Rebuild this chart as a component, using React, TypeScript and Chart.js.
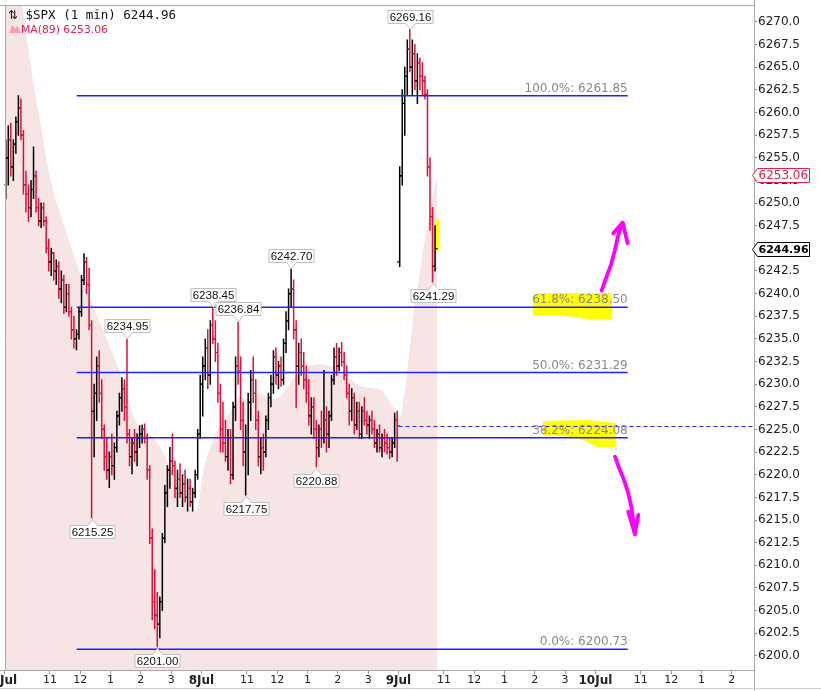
import React, { useEffect, useRef } from 'react';
import { Chart, registerables } from 'chart.js';

Chart.register(...registerables);

// ---- axis / tick labels ----
const dayLabels = ['7Jul', '8Jul', '9Jul', '10Jul'];
const hourLabels = ['11', '12', '1', '2', '3'];
const hourOffsets = [90, 150, 210, 270, 330]; // minutes after 9:30 open
const sessionMinutes = 390;
const barMinutes = 5;
const xMin = 0;
const xMax = 1484;
const yMin = 6198.44;
const yMax = 6271.87;

// ---- price bars [open, high, low, close], 5-minute bars ----
const day1Bars: number[][] = [
  [6252, 6257, 6250.5, 6255], [6255, 6258.5, 6252, 6257], [6257, 6258.8, 6253, 6254], [6254, 6257, 6252.5, 6256.5],
  [6256.5, 6259.5, 6255.5, 6259], [6259, 6261.85, 6257.5, 6260.5], [6260.5, 6261.5, 6257, 6257.5], [6257.5, 6258, 6251, 6252],
  [6252, 6253.5, 6249, 6251], [6251, 6252, 6248, 6249.5], [6249.5, 6252.5, 6248.5, 6251.5], [6251.5, 6256.2, 6250.5, 6253],
  [6253, 6253.5, 6249, 6249.5], [6249.5, 6250.5, 6247.5, 6248], [6248, 6250, 6247.3, 6249.5], [6249.5, 6250, 6247.5, 6248],
  [6248, 6248.5, 6244.5, 6245], [6245, 6246, 6242.5, 6243.5], [6243.5, 6245, 6242, 6244.5], [6244.5, 6244.5, 6241.5, 6242.5],
  [6242.5, 6243.7, 6241, 6243], [6243, 6243.5, 6239.5, 6240.5], [6240.5, 6242.5, 6239, 6241.5], [6241.5, 6242, 6237.8, 6238.5],
  [6238.5, 6241, 6238, 6240], [6240, 6241, 6237.5, 6238], [6238, 6238.5, 6235, 6236], [6236, 6237.5, 6234, 6235],
  [6235, 6236, 6233.8, 6235.5], [6235.5, 6238.5, 6235, 6238], [6238, 6242, 6237.5, 6241.5], [6241.5, 6244.4, 6241, 6243.5],
  [6243.5, 6244, 6240, 6241], [6241, 6242.8, 6236, 6236.5], [6236.5, 6237, 6215.25, 6227], [6227, 6230, 6222, 6229],
  [6229, 6233, 6226, 6232], [6232, 6233.7, 6228, 6229], [6229, 6230.5, 6224, 6225], [6225, 6225.5, 6220.5, 6222],
  [6222, 6224, 6219.5, 6220.5], [6220.5, 6222.5, 6218.6, 6222], [6222, 6224.5, 6220, 6221], [6221, 6223.5, 6219.5, 6223],
  [6223, 6227, 6222.5, 6226.5], [6226.5, 6229, 6225.5, 6228.5], [6228.5, 6230.7, 6227, 6229.5], [6229.5, 6230.5, 6226, 6227.5],
  [6227.5, 6234.95, 6223.5, 6224.5], [6224.5, 6225, 6221, 6222], [6222, 6224, 6220.1, 6223.5], [6223.5, 6225, 6221.5, 6222.5],
  [6222.5, 6224.5, 6221, 6224], [6224, 6225.4, 6223, 6224.5], [6224.5, 6225.5, 6223.5, 6225], [6225, 6225.6, 6223.5, 6224],
  [6224, 6224.5, 6219.5, 6220.5], [6220.5, 6221, 6212.4, 6213], [6213, 6214, 6204, 6206], [6206, 6209.5, 6203, 6204.5],
  [6204.5, 6207, 6201, 6203.5], [6203.5, 6206.5, 6202, 6206], [6206, 6213.5, 6205, 6213], [6213, 6218.8, 6212.5, 6218],
  [6218, 6221, 6216.5, 6220.5], [6220.5, 6223, 6218.5, 6221.5], [6221.5, 6224.5, 6220, 6221], [6221, 6221.5, 6217.5, 6218.5],
  [6218.5, 6220.5, 6216.5, 6219.5], [6219.5, 6221.2, 6217.5, 6218], [6218, 6220, 6216.5, 6219], [6219, 6220.5, 6217, 6217.5],
  [6217.5, 6219.5, 6216, 6218.5], [6218.5, 6219.5, 6216.5, 6217], [6217, 6218.5, 6216, 6218], [6218, 6220.5, 6217.5, 6220],
  [6220, 6225, 6219.5, 6224.5], [6224.5, 6231, 6224, 6230],
];

const day2Bars: number[][] = [
  [6230, 6233, 6226.5, 6232], [6232, 6235, 6230.5, 6234], [6234, 6236, 6229.5, 6231], [6231, 6237, 6230, 6236.5],
  [6236.5, 6238.45, 6234.5, 6235], [6235, 6237, 6232.5, 6233.5], [6233.5, 6234.5, 6228, 6229], [6229, 6230, 6222.5, 6225],
  [6225, 6228, 6222.5, 6223.5], [6223.5, 6226, 6221.5, 6222], [6222, 6225, 6220.5, 6224], [6224, 6225, 6219, 6220],
  [6220, 6228, 6219.5, 6227.5], [6227.5, 6233, 6226, 6232], [6232, 6236.84, 6230, 6231.5], [6231.5, 6233, 6225, 6226],
  [6226, 6228, 6221, 6222.5], [6222.5, 6225.5, 6217.75, 6224], [6224, 6229, 6220, 6228], [6228, 6231.5, 6226, 6230.5],
  [6230.5, 6233, 6228, 6229], [6229, 6230.5, 6225, 6226], [6226, 6227, 6221, 6222], [6222, 6224, 6220.1, 6223],
  [6223, 6224.5, 6220.5, 6222.5], [6222.5, 6226.5, 6222, 6226], [6226, 6229, 6225, 6228.5], [6228.5, 6231, 6227.5, 6230],
  [6230, 6233.7, 6229, 6233], [6233, 6234, 6230, 6231], [6231, 6232.5, 6229.5, 6232], [6232, 6233, 6229.8, 6230.5],
  [6230.5, 6235, 6230, 6234.5], [6234.5, 6238, 6233.5, 6237], [6237, 6240.5, 6236, 6240], [6240, 6242.7, 6238.5, 6240.5],
  [6240.5, 6241.5, 6235, 6236], [6236, 6237, 6227.4, 6232], [6232, 6234.5, 6230, 6233.5], [6233.5, 6235, 6231, 6232],
  [6232, 6233.5, 6229.5, 6230.5], [6230.5, 6232, 6228, 6229], [6229, 6230.5, 6225.5, 6226.5], [6226.5, 6228.5, 6224.5, 6227.5],
  [6227.5, 6228.5, 6224, 6225], [6225, 6226, 6220.88, 6223], [6223, 6225.5, 6222, 6225], [6225, 6227, 6223, 6224],
  [6224, 6231.5, 6223.5, 6226], [6226, 6227.5, 6222.5, 6224.5], [6224.5, 6227, 6223, 6226.5], [6226.5, 6231, 6226, 6230.5],
  [6230.5, 6234, 6230, 6233], [6233, 6234.5, 6231, 6232], [6232, 6234, 6231.5, 6233.5], [6233.5, 6234.6, 6232, 6232.5],
  [6232.5, 6233.5, 6230.5, 6231], [6231, 6232, 6228.5, 6229], [6229, 6230, 6225.5, 6227], [6227, 6229.5, 6226, 6228.5],
  [6228.5, 6229, 6224.5, 6225.5], [6225.5, 6228, 6225, 6227], [6227, 6228, 6224, 6224.5], [6224.5, 6227.5, 6224, 6227],
  [6227, 6228.5, 6225.5, 6226], [6226, 6227, 6224.5, 6225.5], [6225.5, 6226.5, 6224, 6226], [6226, 6227, 6224.5, 6225],
  [6225, 6226, 6223, 6223.5], [6223.5, 6225, 6222.5, 6224.5], [6224.5, 6225.5, 6222.5, 6223], [6223, 6224.5, 6222, 6224],
  [6224, 6225, 6222.5, 6223.5], [6223.5, 6224.5, 6222.3, 6223], [6223, 6224, 6221.8, 6222.5], [6222.5, 6224, 6222, 6223.5],
  [6223.5, 6226.8, 6223, 6226], [6226, 6227, 6221.5, 6225.4],
];

const day3Bars: number[][] = [
  [6243.5, 6254, 6243, 6253], [6253, 6262.5, 6252, 6261], [6261, 6265, 6257.5, 6264], [6264, 6268, 6262, 6267],
  [6267, 6269.16, 6264.5, 6265], [6265, 6268, 6262, 6266.5], [6266.5, 6267.5, 6262.5, 6263.5], [6263.5, 6266.5, 6261, 6265.5],
  [6265.5, 6266, 6262.5, 6264], [6264, 6265.5, 6262, 6263.5], [6263.5, 6264, 6261.5, 6262], [6262, 6262.5, 6253, 6254],
  [6254, 6255, 6247, 6248.5], [6248.5, 6249.5, 6241.29, 6243], [6243, 6247.5, 6242.5, 6244.96],
];

// ---- MA(89) read from the shaded area: minute of session time, value ----
const maMinutes = [0, 35, 45, 56, 70, 90, 110, 155, 209, 229, 262, 282, 308, 334, 373, 383, 393, 413, 421, 446, 466, 480, 506, 526, 545, 571, 599, 625, 650, 678, 710, 743, 769, 783, 793, 803, 811, 823, 839, 857];
const maValues = [6276, 6271.6, 6268.0, 6263.6, 6259.2, 6252.9, 6248.9, 6241.5, 6234.1, 6231.2, 6225.7, 6224.6, 6223.1, 6220.2, 6216.0, 6216.5, 6220.2, 6223.8, 6224.9, 6226.8, 6228.6, 6228.3, 6229.0, 6228.3, 6228.6, 6230.5, 6231.9, 6232.2, 6231.9, 6230.8, 6229.7, 6229.4, 6227.5, 6226.4, 6229.4, 6234.3, 6238.2, 6242.6, 6248.1, 6253.06];
const maLast = 6253.06;

// ---- Fibonacci retracement ----
const fibPercents = ['100.0%', '61.8%', '50.0%', '38.2%', '0.0%'];
const fibLevels = [6261.85, 6238.50, 6231.29, 6224.08, 6200.73];
const fibStartMinute = 143;
const fibEndMinute = 1234;
const prevClose = 6225.4;
const prevCloseStartMinute = 780;

// ---- high / low call-outs ----
const calloutHighs = [6234.95, 6238.45, 6236.84, 6242.70, 6269.16];
const calloutLows = [6215.25, 6201.00, 6217.75, 6220.88, 6241.29];

// ---- hand-drawn markups in (minute, price) ----
const highlight618 = [[1046, 6239.74], [1060, 6240.07], [1201, 6240.07], [1203, 6239.3], [1203, 6237.2], [1159, 6237.15], [1130, 6237.42], [1100, 6237.59], [1046, 6237.59]];
const highlight382 = [[1066, 6225.94], [1153, 6226.05], [1211, 6225.72], [1211, 6223.07], [1173, 6223.07], [1145, 6223.84], [1110, 6224.28], [1066, 6224.39]];
const highlightLast = [[852.3, 6248.24], [860.2, 6248.24], [860.2, 6244.71], [852.3, 6244.71]];
const upArrowPath = [[1182.3, 6240.33], [1190.8, 6241.69], [1200.7, 6243.16], [1208.6, 6244.82], [1215.2, 6246.47], [1223.9, 6247.83]];
const upArrowHead = [[1205.3, 6246.66], [1223.9, 6247.83], [1233.8, 6245.56]];
const downArrowPath = [[1208.7, 6222.0], [1217.2, 6220.72], [1226.5, 6219.43], [1235.0, 6217.96], [1241.7, 6216.3], [1248.3, 6213.43]];
const downArrowHead = [[1235.0, 6215.93], [1248.3, 6213.43], [1254.9, 6215.57]];

const UP = '#000000';
const DOWN = '#d8103c';
const FIB_BLUE = '#2020ff';

type Bar = { m: number; o: number; h: number; l: number; c: number };

function allBars(): Bar[] {
  const out: Bar[] = [];
  [day1Bars, day2Bars, day3Bars].forEach((day, d) => {
    day.forEach((b, i) => {
      out.push({ m: d * sessionMinutes + i * barMinutes + barMinutes / 2, o: b[0], h: b[1], l: b[2], c: b[3] });
    });
  });
  return out;
}

function tickMap(): Map<number, string> {
  const map = new Map<number, string>();
  dayLabels.forEach((lab, d) => {
    const start = d * sessionMinutes;
    if (start <= xMax) map.set(start, lab);
    hourOffsets.forEach((off, h) => {
      const v = start + off;
      if (v <= xMax) map.set(v, hourLabels[h]);
    });
  });
  return map;
}

export default function App() {
  const ref = useRef<HTMLCanvasElement>(null);

  useEffect(() => {
    const canvas = ref.current;
    if (!canvas) return;
    const bars = allBars();
    const ticks = tickMap();
    const lastClose = day3Bars[day3Bars.length - 1][3];

    const overlay: any = {
      id: 'overlay',
      afterDatasetsDraw(chart: any) {
        const { ctx, chartArea: ca } = chart;
        const xs = chart.scales.x;
        const ys = chart.scales.y;
        const X = (m: number) => xs.getPixelForValue(m);
        const Y = (p: number) => ys.getPixelForValue(p);
        ctx.save();
        ctx.beginPath();
        ctx.rect(ca.left, ca.top, ca.right - ca.left, ca.bottom - ca.top);
        ctx.clip();

        // yellow highlighter
        ctx.fillStyle = '#ffff00';
        [highlight618, highlight382, highlightLast].forEach((poly) => {
          ctx.beginPath();
          poly.forEach(([m, p], i) => (i ? ctx.lineTo(X(m), Y(p)) : ctx.moveTo(X(m), Y(p))));
          ctx.closePath();
          ctx.fill();
        });

        // OHLC bars
        bars.forEach((b) => {
          const px = X(b.m);
          ctx.strokeStyle = b.c >= b.o ? UP : DOWN;
          ctx.lineWidth = 1.5;
          ctx.beginPath();
          ctx.moveTo(px, Y(b.h) - 0.5);
          ctx.lineTo(px, Y(b.l) + 0.5);
          ctx.stroke();
          ctx.lineWidth = 1.2;
          const yo = Y(b.o);
          const yc = Y(b.c);
          ctx.beginPath();
          ctx.moveTo(px - 2.5, yo);
          ctx.lineTo(px, yo);
          ctx.moveTo(px, yc);
          ctx.lineTo(px + 2.5, yc);
          ctx.stroke();
        });

        // previous close dashed line
        ctx.strokeStyle = '#2a2aff';
        ctx.lineWidth = 1.2;
        ctx.setLineDash([4, 3]);
        ctx.beginPath();
        const ypc = Math.round(Y(prevClose)) + 0.5;
        ctx.moveTo(X(prevCloseStartMinute), ypc);
        ctx.lineTo(ca.right, ypc);
        ctx.stroke();
        ctx.setLineDash([]);

        // fib lines
        ctx.strokeStyle = FIB_BLUE;
        ctx.lineWidth = 1.6;
        fibLevels.forEach((lv) => {
          const y = Y(lv);
          ctx.beginPath();
          ctx.moveTo(X(fibStartMinute), y);
          ctx.lineTo(X(fibEndMinute), y);
          ctx.stroke();
        });
        ctx.fillStyle = '#8a8a8a';
        ctx.font = '12px "DejaVu Sans"';
        ctx.textAlign = 'right';
        ctx.textBaseline = 'alphabetic';
        fibLevels.forEach((lv, i) => {
          ctx.fillText(fibPercents[i] + ': ' + lv.toFixed(2), X(fibEndMinute), Y(lv) - 4);
        });
        ctx.restore();

        // call-outs
        const callouts: { m: number; v: number; above: boolean }[] = [];
        calloutHighs.forEach((v) => {
          const b = bars.find((bb) => Math.abs(bb.h - v) < 0.001);
          if (b) callouts.push({ m: b.m, v, above: true });
        });
        calloutLows.forEach((v) => {
          const b = bars.find((bb) => Math.abs(bb.l - v) < 0.001);
          if (b) callouts.push({ m: b.m, v, above: false });
        });
        callouts.sort((a, b) => a.m - b.m);
        ctx.save();
        callouts.forEach((c) => {
          const cx = Math.round(X(c.m)) + 0.5;
          const vy = Y(c.v);
          const w = 45;
          const h = 13;
          const l = cx - w / 2;
          const r = cx + w / 2;
          ctx.beginPath();
          let top: number;
          if (c.above) {
            const tip = Math.round(vy - 1) + 0.5;
            const bot = tip - 6;
            top = bot - h;
            ctx.moveTo(l, top);
            ctx.lineTo(r, top);
            ctx.lineTo(r, bot);
            ctx.lineTo(cx + 5, bot);
            ctx.lineTo(cx, tip);
            ctx.lineTo(cx - 5, bot);
            ctx.lineTo(l, bot);
          } else {
            const tip = Math.round(vy + 1) + 0.5;
            top = tip + 6;
            const bot = top + h;
            ctx.moveTo(l, top);
            ctx.lineTo(cx - 5, top);
            ctx.lineTo(cx, tip);
            ctx.lineTo(cx + 5, top);
            ctx.lineTo(r, top);
            ctx.lineTo(r, bot);
            ctx.lineTo(l, bot);
          }
          ctx.closePath();
          ctx.fillStyle = '#ffffff';
          ctx.fill();
          ctx.strokeStyle = '#c0c0c0';
          ctx.lineWidth = 1;
          ctx.stroke();
          ctx.fillStyle = '#111111';
          ctx.font = '11.5px "Liberation Sans"';
          ctx.textAlign = 'center';
          ctx.textBaseline = 'middle';
          ctx.fillText(c.v.toFixed(2), cx, top + h / 2 + 0.5);
        });

        // magenta arrows
        ctx.strokeStyle = '#ff00ff';
        ctx.lineWidth = 3.8;
        ctx.lineCap = 'round';
        ctx.lineJoin = 'round';
        [upArrowPath, upArrowHead, downArrowPath, downArrowHead].forEach((path) => {
          ctx.beginPath();
          path.forEach(([m, p], i) => (i ? ctx.lineTo(X(m), Y(p)) : ctx.moveTo(X(m), Y(p))));
          ctx.stroke();
        });
        ctx.restore();
      },
      afterDraw(chart: any) {
        const { ctx, chartArea: ca, width, height } = chart;
        const ys = chart.scales.y;
        ctx.save();
        // frame
        ctx.strokeStyle = '#a9a9a9';
        ctx.lineWidth = 1;
        ctx.beginPath();
        ctx.moveTo(0, Math.round(ca.top) + 0.5);
        ctx.lineTo(ca.right, Math.round(ca.top) + 0.5);
        ctx.moveTo(Math.round(ca.left) + 0.5, ca.top);
        ctx.lineTo(Math.round(ca.left) + 0.5, ca.bottom);
        ctx.moveTo(0, Math.round(ca.bottom) + 0.5);
        ctx.lineTo(ca.right, Math.round(ca.bottom) + 0.5);
        ctx.moveTo(Math.round(ca.right) + 0.5, 0);
        ctx.lineTo(Math.round(ca.right) + 0.5, height);
        ctx.stroke();
        ctx.strokeStyle = '#cfcfcf';
        ctx.beginPath();
        ctx.moveTo(0, height - 2.5);
        ctx.lineTo(width, height - 2.5);
        ctx.stroke();

        // header
        ctx.fillStyle = '#111111';
        ctx.font = '12px "DejaVu Sans"';
        ctx.textAlign = 'left';
        ctx.textBaseline = 'alphabetic';
        ctx.fillText('\u21C5', 8, 18.5);
        ctx.font = '12.5px "DejaVu Sans Mono"';
        ctx.fillText('$SPX (1 min) ' + lastClose.toFixed(2), 25.5, 18.5);
        ctx.fillStyle = '#f0a3ab';
        ctx.beginPath();
        ctx.moveTo(9, 33);
        ctx.lineTo(12.5, 25);
        ctx.lineTo(15, 29);
        ctx.lineTo(17.5, 26);
        ctx.lineTo(21, 33);
        ctx.closePath();
        ctx.fill();
        ctx.fillStyle = '#e0204c';
        ctx.font = '10.8px "DejaVu Sans"';
        ctx.fillText('MA(89) ' + maLast.toFixed(2), 21, 32.5);

        // right-hand value tags
        const tag = (v: number, color: string, font: string) => {
          const y = Math.round(ys.getPixelForValue(v)) + 0.5;
          const x0 = Math.round(ca.right) - 1.5;
          ctx.beginPath();
          ctx.moveTo(x0, y);
          ctx.lineTo(x0 + 5, y - 7);
          ctx.lineTo(x0 + 57, y - 7);
          ctx.lineTo(x0 + 57, y + 7);
          ctx.lineTo(x0 + 5, y + 7);
          ctx.closePath();
          ctx.fillStyle = '#ffffff';
          ctx.fill();
          ctx.strokeStyle = color;
          ctx.lineWidth = 1;
          ctx.stroke();
          ctx.fillStyle = color;
          ctx.font = font;
          ctx.textAlign = 'left';
          ctx.textBaseline = 'middle';
          ctx.fillText(v.toFixed(2), x0 + 6, y + 0.5);
        };
        tag(maLast, '#e0204c', '12px "DejaVu Sans"');
        tag(lastClose, '#000000', 'bold 11px "DejaVu Sans"');
        ctx.restore();
      },
    };

    const chart = new Chart(canvas, {
      type: 'line',
      data: {
        datasets: [
          {
            data: maMinutes.map((m, i) => ({ x: m, y: maValues[i] })),
            fill: 'start',
            backgroundColor: 'rgb(247,228,228)',
            borderWidth: 0,
            borderColor: 'rgba(0,0,0,0)',
            pointRadius: 0,
            cubicInterpolationMode: 'monotone',
          } as any,
        ],
      },
      options: {
        animation: false,
        responsive: false,
        maintainAspectRatio: false,
        events: [],
        layout: { padding: { left: 4.5, top: 5, right: 0, bottom: 0 } },
        plugins: { legend: { display: false }, tooltip: { enabled: false }, title: { display: false } },
        scales: {
          x: {
            type: 'linear',
            position: 'bottom',
            min: xMin,
            max: xMax,
            border: { display: false },
            grid: { drawOnChartArea: false, drawTicks: true, tickLength: 4, color: '#9a9a9a' },
            ticks: {
              autoSkip: false,
              maxRotation: 0,
              minRotation: 0,
              padding: 0,
              color: '#222222',
              callback: (v: any) => ticks.get(Number(v)) ?? '',
              font: (c: any) => {
                const lab = c && c.tick ? String(c.tick.label ?? '') : '';
                return lab.indexOf('Jul') >= 0
                  ? { family: '"DejaVu Sans"', size: 12, weight: 'bold' }
                  : { family: '"DejaVu Sans"', size: 11, weight: 'normal' };
              },
            },
            afterBuildTicks: (scale: any) => {
              scale.ticks = Array.from(ticks.keys()).sort((a, b) => a - b).map((v) => ({ value: v }));
            },
            afterFit: (scale: any) => {
              scale.height = 21;
              scale.paddingLeft = 0;
              scale.paddingRight = 0;
            },
          } as any,
          y: {
            type: 'linear',
            position: 'right',
            min: yMin,
            max: yMax,
            border: { display: false },
            grid: { drawOnChartArea: false, drawTicks: true, tickLength: 3, color: '#8a8a8a' },
            ticks: {
              stepSize: 2.5,
              autoSkip: false,
              includeBounds: false,
              padding: 1,
              color: '#222222',
              font: { family: '"DejaVu Sans"', size: 12 },
              callback: (v: any) => Number(v).toFixed(1),
            },
            afterFit: (scale: any) => {
              scale.width = 67;
              scale.paddingTop = 0;
              scale.paddingBottom = 0;
            },
          } as any,
        },
      } as any,
      plugins: [overlay],
    });

    return () => chart.destroy();
  }, []);

  return (
    <div style={{ position: 'fixed', left: 0, top: 0, width: 821, height: 691, background: '#ffffff' }}>
      <canvas ref={ref} width={821} height={691} style={{ width: 821, height: 691, display: 'block' }} />
    </div>
  );
}
